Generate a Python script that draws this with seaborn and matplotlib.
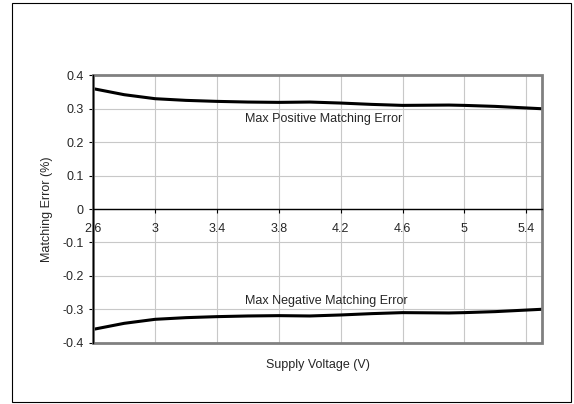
import matplotlib
matplotlib.use("Agg")
import matplotlib.pyplot as plt
from matplotlib.patches import Rectangle
import seaborn as sns
import pandas as pd

voltage = [2.6, 2.8, 3.0, 3.2, 3.4, 3.6, 3.8, 4.0, 4.2, 4.4, 4.6, 4.9, 5.0, 5.2, 5.5]
pos_error = [0.36, 0.342, 0.33, 0.325, 0.322, 0.320, 0.319, 0.320, 0.317, 0.313, 0.310, 0.311, 0.310, 0.307, 0.300]
neg_error = [-0.36, -0.342, -0.33, -0.325, -0.322, -0.320, -0.319, -0.320, -0.317, -0.313, -0.310, -0.311, -0.310, -0.307, -0.300]
series_names = ["Max Positive Matching Error", "Max Negative Matching Error"]
x_ticks = [2.6, 3.0, 3.4, 3.8, 4.2, 4.6, 5.0, 5.4]
x_tick_labels = ["2.6", "3", "3.4", "3.8", "4.2", "4.6", "5", "5.4"]
y_ticks = [-0.4, -0.3, -0.2, -0.1, 0.0, 0.1, 0.2, 0.3, 0.4]
y_tick_labels = ["-0.4", "-0.3", "-0.2", "-0.1", "0", "0.1", "0.2", "0.3", "0.4"]

sns.set_style("white")
plt.rcParams["font.family"] = ["Liberation Sans", "DejaVu Sans"]
FS = 9
plt.rcParams["font.size"] = FS

df = pd.DataFrame({
    "voltage": voltage * 2,
    "error": pos_error + neg_error,
    "series": [series_names[0]] * len(voltage) + [series_names[1]] * len(voltage),
})

fig = plt.figure(figsize=(5.74, 4.04), dpi=100)
ax = fig.add_axes([0.1625, 0.1517, 0.7812, 0.6619])

ax.grid(True, color="#c8c8c8", linewidth=0.8, zorder=0)
ax.set_axisbelow(True)

sns.lineplot(data=df, x="voltage", y="error", hue="series",
             palette=["black", "black"], linewidth=2.2, legend=False,
             ax=ax, zorder=3)

ax.set_xlim(2.6, 5.5)
ax.set_ylim(-0.4, 0.4)
ax.set_xticks(x_ticks)
ax.set_xticklabels(x_tick_labels)
ax.set_yticks(y_ticks)
ax.set_yticklabels(y_tick_labels)

# plot area border (gray)
ax.add_patch(Rectangle((0, 0), 1, 1, transform=ax.transAxes, fill=False,
                       edgecolor="#808080", linewidth=2.0, zorder=4, clip_on=False))

for s in ["top", "right"]:
    ax.spines[s].set_visible(False)
ax.spines["bottom"].set_position(("data", 0))
ax.spines["bottom"].set_color("black")
ax.spines["bottom"].set_linewidth(1.0)
ax.spines["bottom"].set_zorder(5)
ax.spines["left"].set_color("black")
ax.spines["left"].set_linewidth(1.0)
ax.spines["left"].set_zorder(5)

ax.tick_params(axis="x", direction="out", length=3, width=0.8, color="black",
               pad=7, labelsize=FS, bottom=True)
ax.tick_params(axis="y", direction="out", length=3, width=0.8, color="black",
               pad=4, labelsize=FS, left=True)

ax.set_xlabel("Supply Voltage (V)", fontsize=FS)
ax.set_ylabel("Matching Error (%)", fontsize=FS)
ax.xaxis.set_label_coords(0.5, -0.061)
ax.yaxis.set_label_coords(-0.09, 0.5)

ax.text(4.09, 0.269, series_names[0], ha="center", va="center", fontsize=FS)
ax.text(4.11, -0.276, series_names[1], ha="center", va="center", fontsize=FS)

fig.add_artist(Rectangle((12 / 574, 2 / 404), 559 / 574, 399 / 404,
                         transform=fig.transFigure, fill=False,
                         edgecolor="black", linewidth=0.8))

fig.savefig("out.png", dpi=100, facecolor="white")
